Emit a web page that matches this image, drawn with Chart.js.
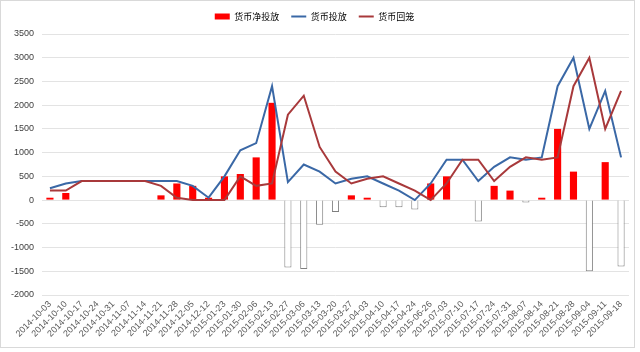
<!DOCTYPE html>
<html>
<head>
<meta charset="utf-8">
<script src="https://cdn.jsdelivr.net/npm/chart.js@4/dist/chart.umd.min.js"></script>
<style>
html,body{margin:0;padding:0;background:#fff;}
#wrap{position:relative;width:640px;height:352px;}
</style>
</head>
<body>
<div id="wrap"><canvas id="c" width="640" height="352"></canvas></div>
<script>
const categories = ["2014-10-03","2014-10-10","2014-10-17","2014-10-24","2014-10-31","2014-11-07","2014-11-14","2014-11-21","2014-11-28","2014-12-05","2014-12-12","2015-01-23","2015-01-30","2015-02-06","2015-02-13","2015-02-27","2015-03-06","2015-03-13","2015-03-20","2015-03-27","2015-04-03","2015-04-10","2015-04-17","2015-04-24","2015-06-26","2015-07-03","2015-07-10","2015-07-17","2015-07-24","2015-07-31","2015-08-07","2015-08-14","2015-08-21","2015-08-28","2015-09-04","2015-09-11","2015-09-18"];
const netInjection = [50,150,0,0,0,0,0,100,350,300,50,500,550,900,2050,-1420,-1450,-520,-250,100,50,-150,-150,-200,350,500,0,-450,300,200,-50,50,1500,600,-1500,800,-1400];
const injection = [250,350,400,400,400,400,400,400,400,300,50,500,1050,1200,2400,380,750,600,350,450,500,350,200,0,350,850,850,400,700,900,850,900,2400,3000,1500,2300,900];
const withdrawal = [200,200,400,400,400,400,400,300,50,0,0,0,500,300,350,1800,2200,1120,600,350,450,500,350,200,0,350,850,850,400,700,900,850,900,2400,3000,1500,2300];
const seriesNames = ["货币净投放","货币投放","货币回笼"];
const yTicks = {min:-2000, max:3500, step:500};

const BLUE = '#3A68A6';
const RED_LINE = '#A8393B';

const framePlugin = {
  id:'frame',
  beforeDraw(chart){
    const ctx = chart.ctx;
    ctx.save();
    ctx.fillStyle = '#fff';
    ctx.fillRect(0,0,chart.width,chart.height);
    ctx.strokeStyle = '#D9D9D9';
    ctx.lineWidth = 1;
    ctx.strokeRect(0.5,0.5,634,347);
    ctx.restore();
  }
};
const legendHeightPlugin = {
  id:'legendHeight',
  beforeLayout(chart){
    const lg = chart.legend;
    if (lg && !lg._patched){
      const f = lg.fit;
      lg.fit = function(){ f.call(this); this.height = 34; };
      lg._patched = true;
    }
  }
};

new Chart(document.getElementById('c'), {
  data: {
    labels: categories,
    datasets: [
      {
        type:'bar', label: seriesNames[0], data: netInjection, order: 2,
        backgroundColor: ctx => (ctx.raw < 0 ? '#FFFFFF' : '#FF0000'),
        borderColor: ctx => (ctx.raw < 0 ? '#7F7F7F' : '#FF0000'),
        borderWidth: ctx => (ctx.raw < 0 ? 1 : 0),
        barPercentage: 0.45, categoryPercentage: 1.0
      },
      {
        type:'line', label: seriesNames[1], data: injection, order: 1,
        borderColor: BLUE, backgroundColor: BLUE, borderWidth: 2,
        pointRadius: 0, tension: 0, fill: false
      },
      {
        type:'line', label: seriesNames[2], data: withdrawal, order: 0,
        borderColor: RED_LINE, backgroundColor: RED_LINE, borderWidth: 2,
        pointRadius: 0, tension: 0, fill: false
      }
    ]
  },
  options: {
    responsive:false, animation:false, devicePixelRatio:1,
    layout:{padding:{left:0,right:11,top:0,bottom:0}},
    plugins:{
      tooltip:{enabled:false},
      legend:{
        position:'top',
        labels:{
          usePointStyle:true, pointStyleWidth:15, boxHeight:6, padding:12,
          color:'#262626',
          font:{family:'"Noto Sans CJK SC", sans-serif', size:9},
          generateLabels(chart){
            return [
              {text:seriesNames[0], fillStyle:'#FF0000', strokeStyle:'#FF0000', lineWidth:0, pointStyle:'rect', datasetIndex:0, hidden:false},
              {text:seriesNames[1], fillStyle:BLUE, strokeStyle:BLUE, lineWidth:2, pointStyle:'line', datasetIndex:1, hidden:false},
              {text:seriesNames[2], fillStyle:RED_LINE, strokeStyle:RED_LINE, lineWidth:2, pointStyle:'line', datasetIndex:2, hidden:false}
            ];
          }
        }
      }
    },
    scales:{
      x:{
        grid:{display:false, drawTicks:false},
        border:{display:false},
        ticks:{
          autoSkip:false, maxRotation:45, minRotation:45, padding:4,
          color:'#595959', font:{family:'"Liberation Sans", Arial, sans-serif', size:9}
        },
        afterFit(s){ s.height = 57; }
      },
      y:{
        min:yTicks.min, max:yTicks.max,
        grid:{color:'#E3E3E3', lineWidth:1, drawTicks:false},
        border:{display:false},
        ticks:{
          stepSize:yTicks.step, padding:8,
          callback:(v) => String(v),
          color:'#404040', font:{family:'"Liberation Sans", Arial, sans-serif', size:9}
        },
        afterFit(s){ s.width = 42; }
      }
    }
  },
  plugins:[framePlugin, legendHeightPlugin]
});
</script>
</body>
</html>
